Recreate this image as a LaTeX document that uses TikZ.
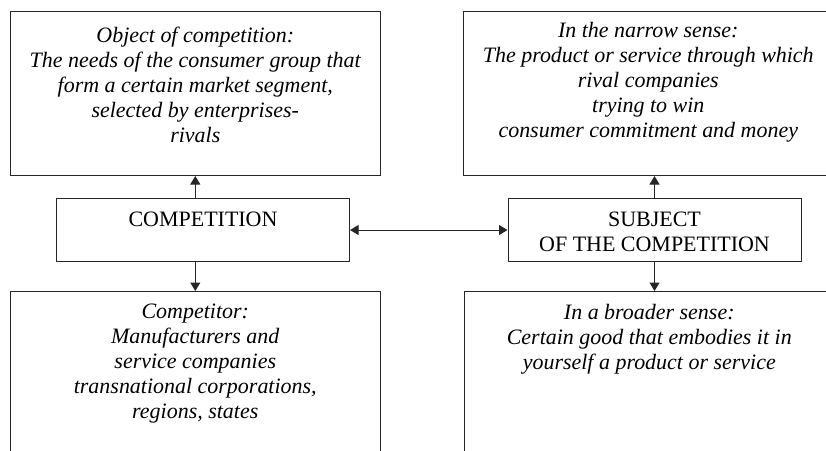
\documentclass[tikz,border=0pt]{standalone}
\usepackage{fontspec}
\setmainfont{Liberation Serif}
\usetikzlibrary{arrows.meta,positioning}

\newcommand\boxfont{\fontsize{12.5}{14.2}\selectfont}

\tikzset{
  panel/.style={draw=black!85, line width=0.6pt, anchor=north west,
    minimum width=7.41cm, inner sep=0pt},
  headbox/.style={panel, minimum width=5.86cm, minimum height=1.26cm},
  caption/.style={anchor=north, align=center, inner sep=0pt, font=\boxfont\itshape},
  headtext/.style={anchor=north, align=center, inner sep=0pt, font=\boxfont},
  flow/.style={-{Triangle[width=2mm,length=1.7mm]}, line width=0.6pt, draw=black!85}
}

\begin{document}
\begin{tikzpicture}
  \useasboundingbox (0,0) rectangle (16.52,9);
  \clip (0,0) rectangle (16.52,9);
  % upper row
  \node[panel, minimum height=3.28cm] (obj) at (0.19,8.78) {};
  \node[panel, minimum height=3.28cm] (narrow) at (9.25,8.78) {};
  % middle row
  \node[headbox] (comp) at (1.12,5.04) {};
  \node[headbox] (subj) at (10.15,5.04) {};
  % lower row, runs off the page
  \node[panel, minimum height=4cm] (rivals) at (0.19,3.18) {};
  \node[panel, minimum height=4cm] (broad) at (9.27,3.18) {};

  % texts
  \node[caption] (objtext) at ([yshift=-0.32cm]obj.north)
    {Object of competition:\\The needs of the consumer group that\\form a certain market segment,\\selected by enterprises-\\rivals};
  \node[caption] (narrowtext) at ([yshift=-0.22cm]narrow.north)
    {In the narrow sense:\\The product or service through which\\rival companies\\trying to win\\consumer commitment and money};
  \node[headtext] (comptext) at ([yshift=-0.28cm]comp.north) {COMPETITION};
  \node[headtext] (subjtext) at ([yshift=-0.28cm]subj.north) {SUBJECT\\OF THE COMPETITION};
  \node[caption] (rivalstext) at ([yshift=-0.26cm]rivals.north)
    {Competitor:\\Manufacturers and\\service companies\\transnational corporations,\\regions, states};
  \node[caption] (broadtext) at ([yshift=-0.26cm]broad.north)
    {In a broader sense:\\Certain good that embodies it in\\yourself a product or service};

  % arrows
  \draw[flow] (comp.north -| obj.south) -- (obj.south);
  \draw[flow] (comp.south -| rivals.north) -- (rivals.north);
  \draw[flow] (subj.north) -- (subj.north |- narrow.south);
  \draw[flow] (subj.south) -- (subj.south |- broad.north);
  \draw[flow, {Triangle[width=2mm,length=1.7mm]}-{Triangle[width=2mm,length=1.7mm]}] (comp.east) -- (subj.west);
\end{tikzpicture}
\end{document}
